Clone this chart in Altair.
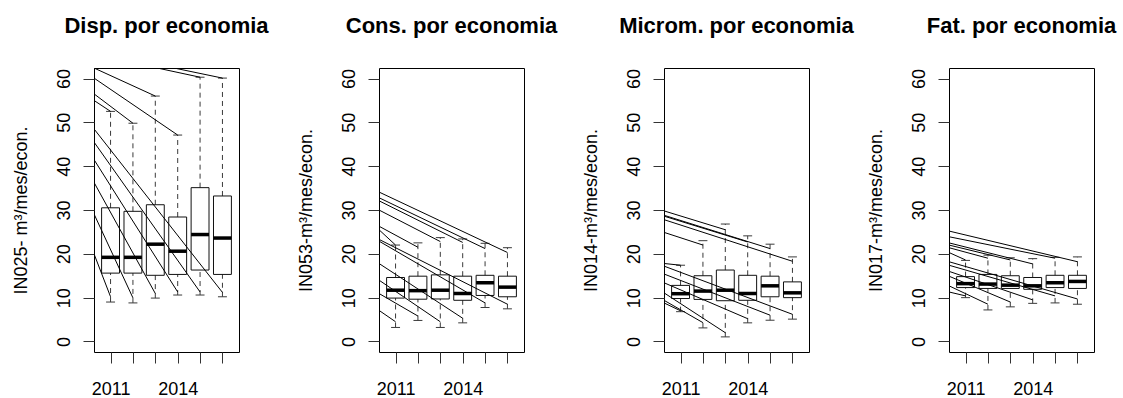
import altair as alt
import pandas as pd

# --- data -----------------------------------------------------------------
years = [2011, 2012, 2013, 2014, 2015, 2016]
labelled_years = [2011, 2014]

panel_titles = ["Disp. por economia", "Cons. por economia",
                "Microm. por economia", "Fat. por economia"]
y_titles = ["IN025- m³/mes/econ.", "IN053-m³/mes/econ.",
            "IN014-m³/mes/econ.", "IN017-m³/mes/econ."]

# five-number summaries (lower whisker, Q1, median, Q3, upper whisker) per year
disp_low = [9.0, 8.8, 9.9, 10.6, 10.6, 10.2]
disp_q1 = [15.6, 15.6, 15.1, 15.3, 16.3, 15.3]
disp_med = [19.2, 19.2, 22.2, 20.6, 24.4, 23.6]
disp_q3 = [30.5, 29.7, 31.2, 28.4, 35.1, 33.2]
disp_high = [52.5, 49.8, 56.0, 47.1, 60.3, 60.1]

cons_low = [3.2, 4.8, 3.2, 4.25, 7.75, 7.45]
cons_q1 = [9.9, 9.65, 9.7, 9.4, 10.5, 10.2]
cons_med = [11.7, 11.6, 11.7, 10.95, 13.4, 12.4]
cons_q3 = [14.6, 14.9, 15.2, 14.9, 15.1, 14.9]
cons_high = [22.0, 22.5, 23.7, 23.4, 22.4, 21.4]

micro_low = [6.8, 3.1, 1.05, 4.25, 4.85, 5.1]
micro_q1 = [9.8, 9.6, 9.3, 9.4, 10.2, 10.0]
micro_med = [10.9, 11.5, 11.7, 10.95, 12.7, 11.1]
micro_q3 = [12.8, 15.0, 16.3, 15.1, 14.9, 13.6]
micro_high = [17.4, 23.0, 26.8, 24.1, 22.2, 19.3]

fat_low = [10.0, 7.2, 7.9, 8.7, 8.8, 8.5]
fat_q1 = [12.3, 12.1, 12.1, 11.9, 12.3, 12.1]
fat_med = [13.2, 13.1, 12.85, 12.7, 13.4, 13.7]
fat_q3 = [14.8, 15.3, 15.0, 14.6, 15.1, 15.1]
fat_high = [18.5, 19.7, 19.1, 18.9, 19.2, 19.3]

# trace lines: value at the left frame edge -> value at each year's box
disp_up_start = [55.0, 56.5, 62.4, 60.1, 65.5, 66.2]
disp_up_end = [52.5, 49.8, 56.0, 47.1, 60.3, 60.1]
disp_dn_start = [20.0, 29.1, 36.3, 41.5, 45.5, 48.5]
disp_dn_end = [10.2, 9.95, 10.95, 11.3, 11.3, 11.2]

cons_up_start = [25.5, 26.3, 30.0, 32.1, 32.8, 34.1]
cons_up_end = [22.0, 21.5, 22.8, 22.6, 21.2, 20.3]
cons_dn_start = [7.1, 10.95, 14.0, 17.8, 22.9, 23.3]
cons_dn_end = [4.5, 5.8, 4.5, 5.3, 8.8, 8.5]

micro_up_start = [17.8, 24.9, 29.8, 28.6, 28.8, 27.8]
micro_up_end = [17.4, 22.0, 25.5, 22.7, 21.2, 18.3]
micro_dn_start = [8.8, 9.4, 11.1, 13.4, 15.4, 17.2]
micro_dn_end = [7.0, 4.3, 2.0, 5.2, 6.0, 6.2]

fat_up_start = [20.3, 21.4, 22.0, 22.5, 23.9, 25.2]
fat_up_end = [18.6, 19.0, 18.6, 17.7, 19.0, 18.2]
fat_dn_start = [11.3, 12.7, 14.9, 16.0, 17.4, 18.2]
fat_dn_end = [10.4, 8.5, 9.0, 9.5, 10.4, 9.7]

y_ticks = [0, 10, 20, 30, 40, 50, 60]

# --- layout / style -------------------------------------------------------
FONT = "Liberation Sans"
PANEL_W, PANEL_H = 145, 284
n = len(years)
positions = list(range(1, n + 1))
x_ext = 0.04 * n
x_domain = [0.5 - x_ext, n + 0.5 + x_ext]
y_ext = 0.04 * (y_ticks[-1] - y_ticks[0])
y_domain = [y_ticks[0] - y_ext, y_ticks[-1] + y_ext]

x_scale = alt.Scale(domain=x_domain, nice=False, zero=False)
y_scale = alt.Scale(domain=y_domain, nice=False, zero=False)

shown = " : ".join(
    f"datum.value == {i} ? '{y}'" for i, y in zip(positions, years) if y in labelled_years
) + " : ''"

x_axis = alt.Axis(values=positions, labelExpr=shown, grid=False, domain=False,
                  tickSize=11, tickColor="#333333", tickWidth=1,
                  labelFont=FONT, labelFontSize=18, labelColor="black",
                  labelAngle=0, labelAlign="center", labelBaseline="alphabetic",
                  labelPadding=31, labelFlush=False, labelOverlap=False)


def y_axis(title):
    return alt.Axis(values=y_ticks, grid=False, domain=False,
                    tickSize=11, tickColor="#333333", tickWidth=1,
                    labelFont=FONT, labelFontSize=18, labelColor="black",
                    labelAngle=270, labelAlign="center", labelBaseline="alphabetic",
                    labelPadding=13.5, labelFlush=False, labelOverlap=False,
                    title=title, titleFont=FONT, titleFontSize=18,
                    titleFontWeight="normal", titleColor="black",
                    titleAngle=270, titleAlign="center", titleBaseline="alphabetic",
                    titleX=-68, titleY=PANEL_H / 2)


def panel(title, y_title, low, q1, med, q3, high, up_s, up_e, dn_s, dn_e):
    stats = pd.DataFrame({"pos": positions, "low": low, "q1": q1,
                          "med": med, "q3": q3, "high": high})
    traces = pd.DataFrame({"xs": [x_domain[0]] * (2 * n),
                           "ys": up_s + dn_s,
                           "xe": positions + positions,
                           "ye": up_e + dn_e})

    def X(field):
        return alt.X(field, type="quantitative", scale=x_scale, axis=x_axis, title=None)

    def Y(field):
        return alt.Y(field, type="quantitative", scale=y_scale, axis=y_axis(y_title))

    base = alt.Chart(stats).transform_calculate(
        b0="datum.pos - 0.4", b1="datum.pos + 0.4",
        s0="datum.pos - 0.2", s1="datum.pos + 0.2")

    whisk_up = base.mark_rule(color="#3a3a3a", strokeWidth=1, strokeDash=[5, 4]).encode(
        x=X("pos"), y=Y("q3"), y2="high")
    whisk_dn = base.mark_rule(color="#3a3a3a", strokeWidth=1, strokeDash=[5, 4]).encode(
        x=X("pos"), y=Y("low"), y2="q1")
    cap_up = base.mark_rule(color="#3a3a3a", strokeWidth=1).encode(
        x=X("s0"), x2="s1", y=Y("high"))
    cap_dn = base.mark_rule(color="#3a3a3a", strokeWidth=1).encode(
        x=X("s0"), x2="s1", y=Y("low"))
    boxes = base.mark_rect(fill="white", fillOpacity=0, stroke="#111111", strokeWidth=1).encode(
        x=X("b0"), x2="b1", y=Y("q1"), y2="q3")
    medians = base.mark_rule(color="black", strokeWidth=3.5).encode(
        x=X("b0"), x2="b1", y=Y("med"))
    lines = alt.Chart(traces).mark_rule(color="black", strokeWidth=1, clip=True).encode(
        x=X("xs"), x2="xe", y=Y("ys"), y2="ye")

    return alt.layer(whisk_up, whisk_dn, cap_up, cap_dn, boxes, medians, lines).properties(
        width=PANEL_W, height=PANEL_H,
        title=alt.TitleParams(title, font=FONT, fontSize=22, fontWeight="bold",
                              color="black", anchor="middle", frame="group",
                              baseline="alphabetic", offset=13))


panels = [
    panel(panel_titles[0], y_titles[0], disp_low, disp_q1, disp_med, disp_q3, disp_high,
          disp_up_start, disp_up_end, disp_dn_start, disp_dn_end),
    panel(panel_titles[1], y_titles[1], cons_low, cons_q1, cons_med, cons_q3, cons_high,
          cons_up_start, cons_up_end, cons_dn_start, cons_dn_end),
    panel(panel_titles[2], y_titles[2], micro_low, micro_q1, micro_med, micro_q3, micro_high,
          micro_up_start, micro_up_end, micro_dn_start, micro_dn_end),
    panel(panel_titles[3], y_titles[3], fat_low, fat_q1, fat_med, fat_q3, fat_high,
          fat_up_start, fat_up_end, fat_dn_start, fat_dn_end),
]

chart = alt.hconcat(*panels, spacing=140, bounds="flush").properties(
    padding={"left": 11, "top": 14, "right": 0, "bottom": 0},
    background="white",
).configure_view(stroke="black", strokeWidth=1)

chart.save("out.html", embed_options={"renderer": "svg", "actions": False})
